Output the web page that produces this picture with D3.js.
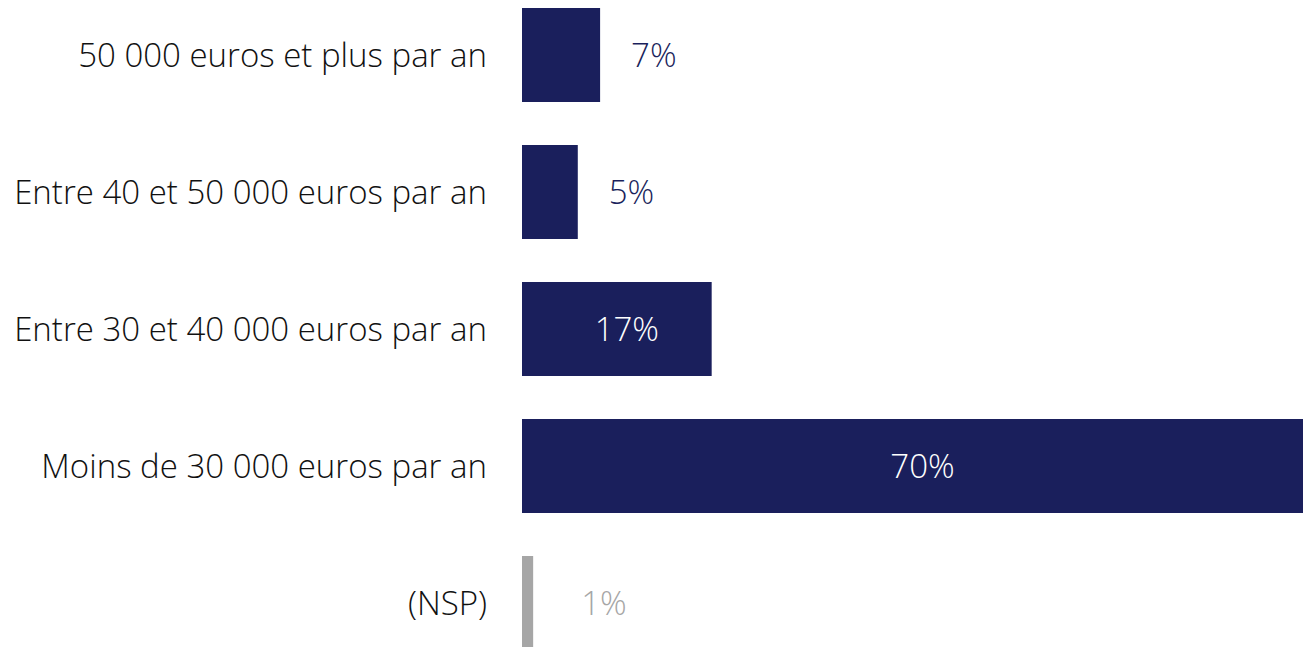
<!DOCTYPE html>
<html>
  <head>
    <meta charset="utf-8">
    <title>Revenus</title>
    <script src="https://cdn.jsdelivr.net/npm/d3@7"></script>
    <style>
      body, html { margin: 0; padding: 0; background: #fff; }
      svg text { font-family: "Open Sans", "Noto Sans", sans-serif; font-size: 33px; font-weight: 300; }
    </style>
  </head>
  <body>
    <svg id="svg" width="1303" height="647"></svg>
    <script>
      const categories = [
        "50 000 euros et plus par an",
        "Entre 40 et 50 000 euros par an",
        "Entre 30 et 40 000 euros par an",
        "Moins de 30 000 euros par an",
        "(NSP)"
      ];
      const values = [7, 5, 17, 70, 1];
      const isNsp = [false, false, false, false, true];

      const left = 522;
      const navy = "#1a1f5c";
      const grey = "#a6a6a6";

      const xscale = d3.scaleLinear()
        .domain([0, 70])
        .range([left, 1303]);

      // step 137, bar 94 tall, first bar at y=8
      const yscale = d3.scaleBand()
        .domain(categories)
        .range([8, 650])
        .paddingInner(43 / 137)
        .paddingOuter(0);

      const svg = d3.select("#svg");

      const rows = svg.selectAll("g.row")
        .data(categories)
        .join("g")
        .attr("class", "row");

      rows.append("rect")
        .attr("x", xscale(0))
        .attr("y", d => yscale(d))
        .attr("width", (d, i) => xscale(values[i]) - xscale(0))
        .attr("height", yscale.bandwidth())
        .attr("fill", (d, i) => isNsp[i] ? grey : navy);

      // category labels
      rows.append("text")
        .attr("x", 487)
        .attr("y", d => yscale(d) + yscale.bandwidth() / 2)
        .attr("dy", "0.35em")
        .attr("text-anchor", "end")
        .attr("fill", "#111")
        .style("font-weight", 350)
        .text(d => d);

      const inside = i => (xscale(values[i]) - xscale(0)) > 120;

      // value labels: inside for the big bars, outside for the small ones
      rows.append("text")
        .attr("x", (d, i) => {
          if (inside(i)) return (xscale(0) + xscale(values[i])) / 2 + 10;
          return xscale(values[i]) + (isNsp[i] ? 48 : 31);
        })
        .attr("y", d => yscale(d) + yscale.bandwidth() / 2)
        .attr("dy", "0.35em")
        .attr("text-anchor", (d, i) => inside(i) ? "middle" : "start")
        .attr("fill", (d, i) => inside(i) ? "#fff" : (isNsp[i] ? grey : navy))
        .style("font-weight", 350)
        .text((d, i) => values[i] + "%");
    </script>
  </body>
</html>
